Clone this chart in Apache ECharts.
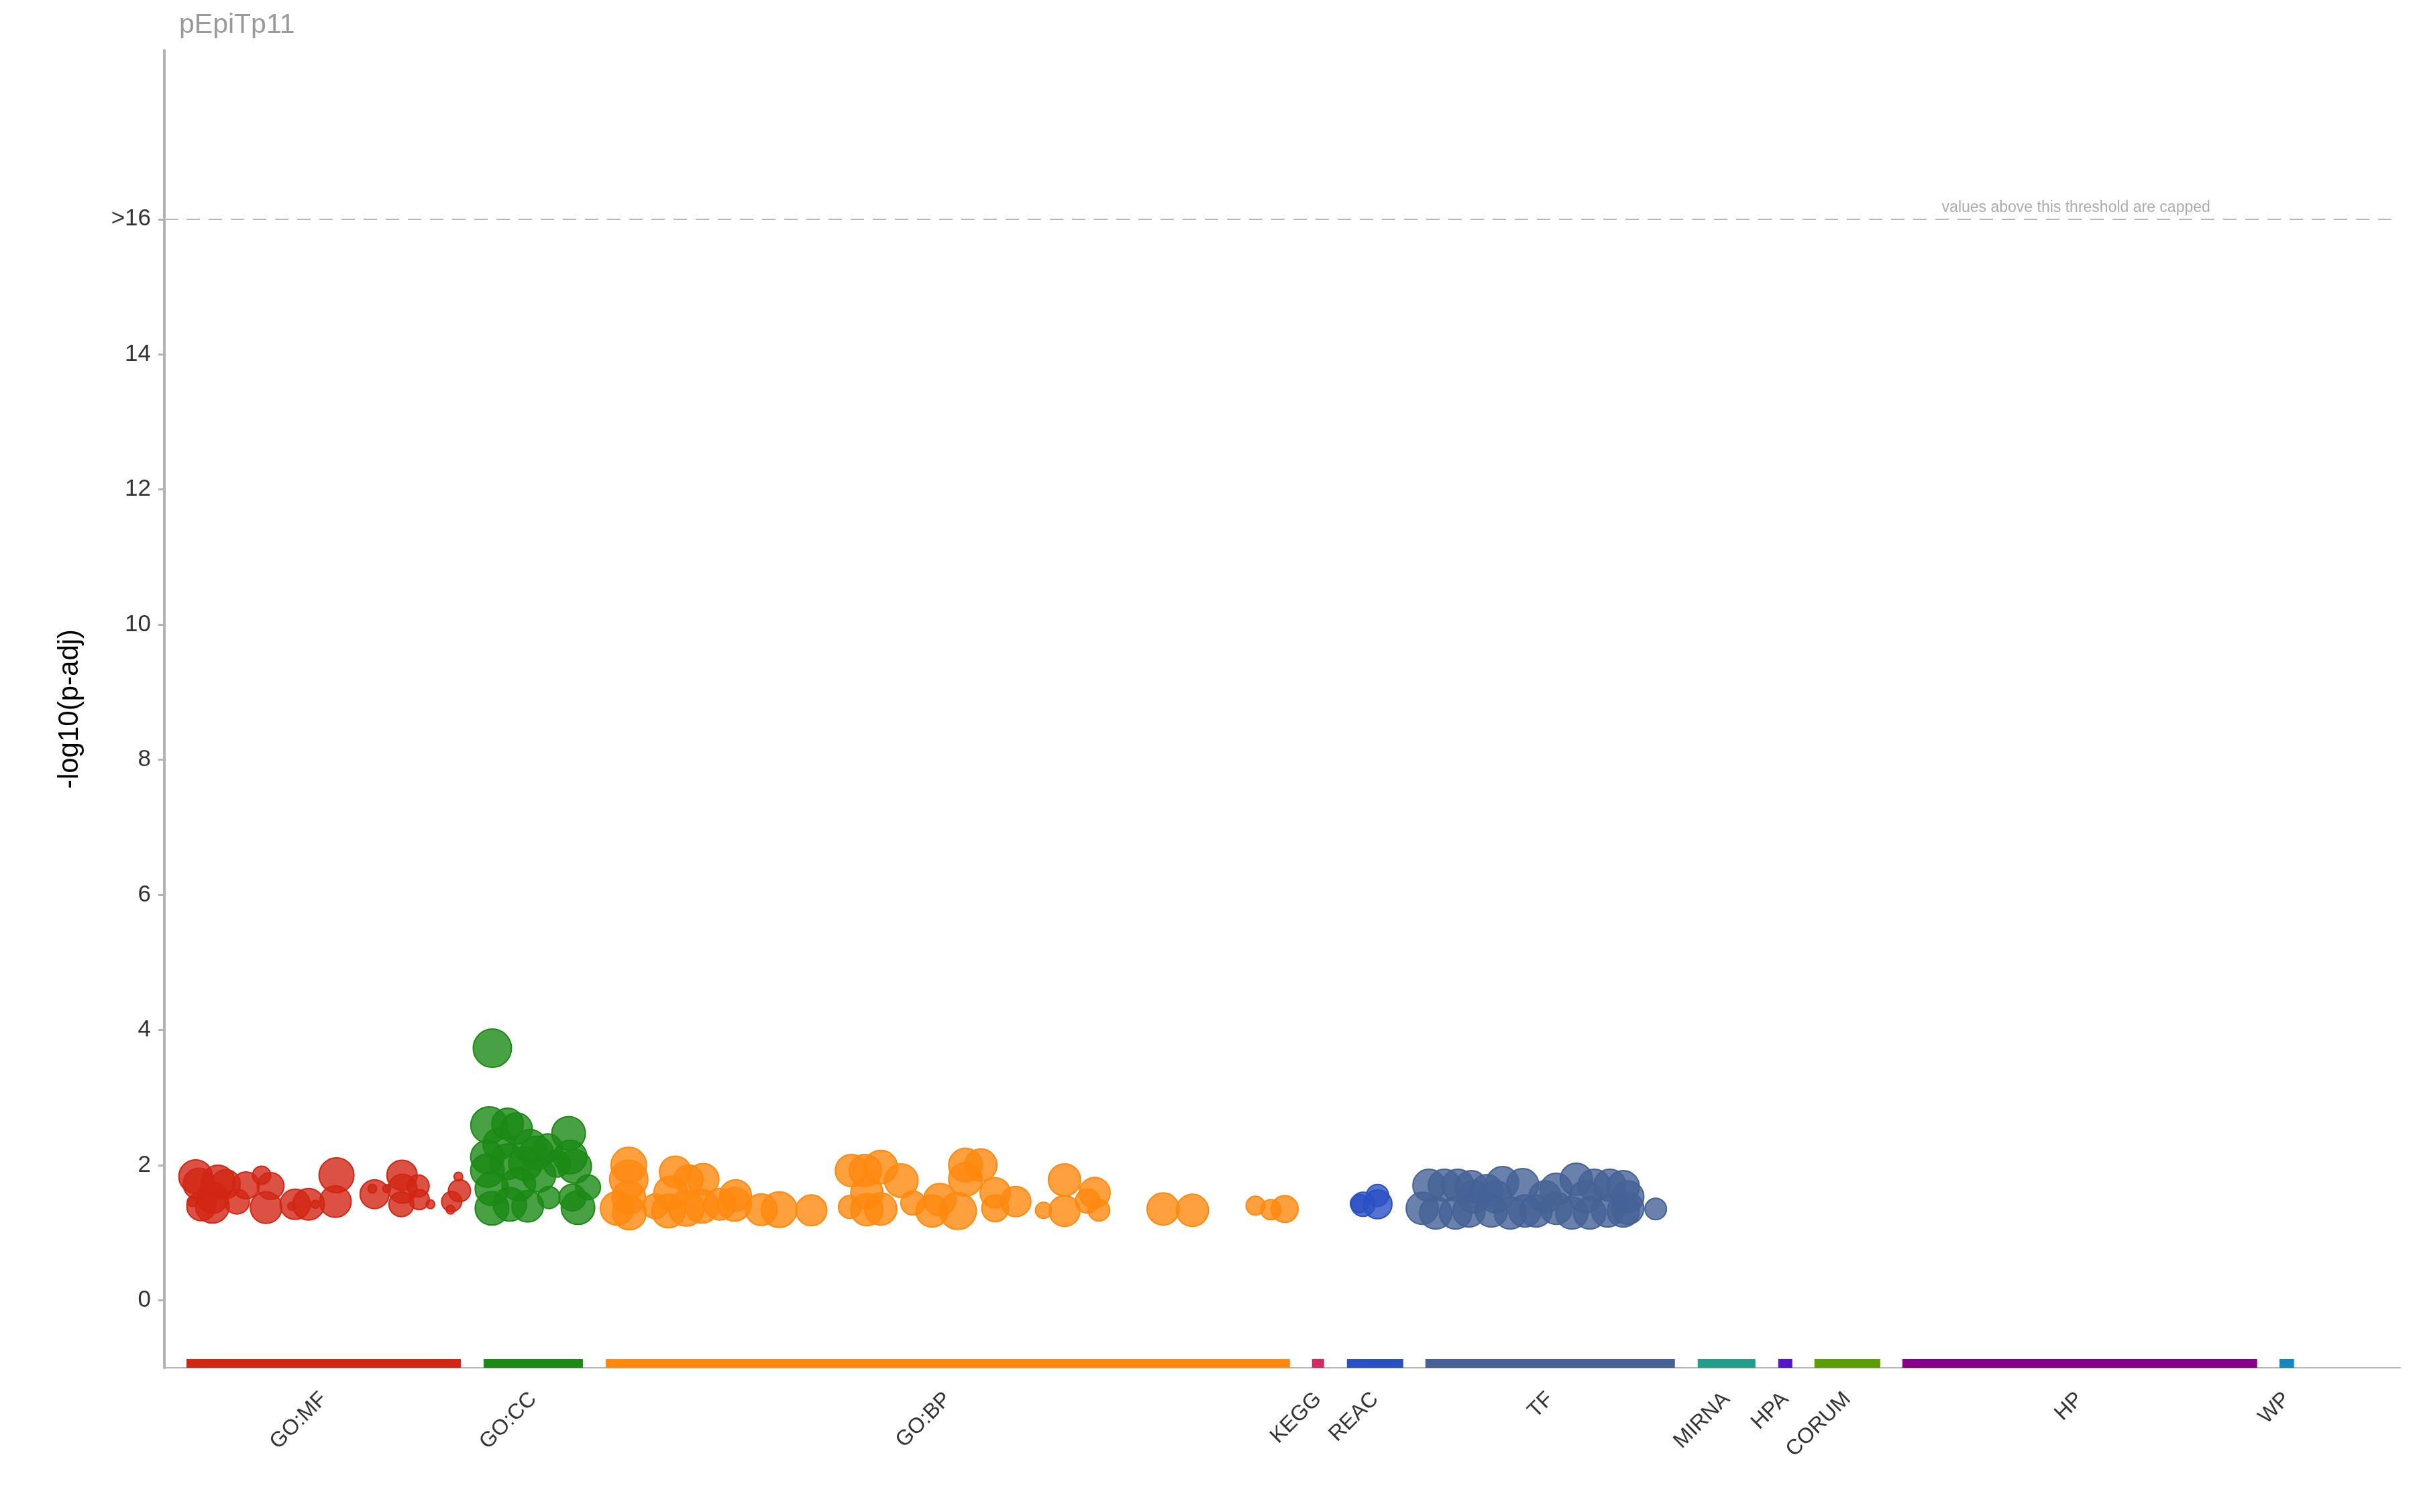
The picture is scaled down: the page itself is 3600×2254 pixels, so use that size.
<!DOCTYPE html>
<html><head><meta charset="utf-8">
<script src="https://cdn.jsdelivr.net/npm/echarts@6/dist/echarts.min.js"></script>
<style>html,body{margin:0;padding:0;background:#fff}#c{width:3600px;height:2254px}</style>
</head><body><div id="c"></div>
<script>
// ---------- data ----------
const sources = ['GO:MF','GO:CC','GO:BP','KEGG','REAC','TF','MIRNA','HPA','CORUM','HP','WP'];
const sourceStart = [0.99,14.28,19.74,51.33,52.89,56.40,68.58,72.18,73.80,77.73,94.60];
const sourceEnd   = [13.26,18.72,50.34,51.87,55.41,67.56,71.16,72.81,76.74,93.60,95.25];
const sourceColors = ['#d22614','#1a8a14','#ff880e','#d52b65','#2a50c4','#456196','#219d89','#5519c4','#5b9e00','#870087','#1288bf'];
const yTicks = [0,2,4,6,8,10,12,14,16];
const capValue = 16;
const capNote = 'values above this threshold are capped';

// [x position, -log10(p-adj), marker size]
const pointsGOMF = [[1.40,1.83,50],[1.55,1.72,47],[2.40,1.75,50],[2.75,1.72,43],[3.65,1.70,40],[2.15,1.39,50],[1.65,1.39,43],[3.25,1.46,37],[1.25,1.46,15],[4.35,1.85,27],[4.75,1.69,40],[4.55,1.37,47],[5.85,1.42,45],[6.45,1.42,47],[6.75,1.42,12],[5.70,1.39,12],[7.70,1.85,52],[7.65,1.46,47],[9.40,1.57,43],[9.30,1.65,13],[9.95,1.65,12],[10.63,1.85,45],[10.65,1.65,43],[10.60,1.42,37],[11.35,1.69,33],[11.40,1.49,30],[11.90,1.42,13],[13.15,1.83,13],[13.20,1.62,33],[12.85,1.46,30],[12.80,1.34,13],[2.15,1.52,47]];
const pointsGOCC = [[14.67,3.73,57],[14.53,2.59,55],[15.35,2.61,47],[15.75,2.54,47],[16.35,2.28,50],[17.15,2.25,43],[18.08,2.47,50],[14.45,2.12,50],[14.45,1.92,50],[15.35,2.05,53],[16.15,2.02,50],[14.65,1.65,50],[14.65,1.36,50],[15.45,1.42,50],[16.25,1.39,47],[17.20,1.52,33],[18.15,2.12,50],[18.35,1.98,50],[18.95,1.67,37],[18.50,1.37,50],[18.25,1.52,40],[16.75,1.85,50],[15.85,1.72,50],[17.55,2.02,40],[14.95,2.31,47],[16.65,2.18,50]];
const pointsGOBP = [[20.77,2.00,53],[20.77,1.79,57],[20.77,1.52,50],[20.25,1.36,50],[20.80,1.29,50],[22.85,1.90,47],[24.10,1.79,47],[23.45,1.79,43],[22.65,1.59,50],[22.55,1.32,50],[23.35,1.36,53],[24.05,1.39,50],[24.85,1.42,47],[25.50,1.42,50],[26.70,1.34,47],[27.50,1.34,53],[25.55,1.55,47],[21.95,1.39,37],[28.94,1.33,46],[30.73,1.92,48],[31.35,1.92,48],[32.04,1.97,50],[32.96,1.77,50],[31.42,1.59,48],[30.66,1.38,34],[31.42,1.34,48],[32.04,1.35,48],[33.48,1.44,36],[34.68,1.49,48],[34.34,1.32,48],[35.49,1.32,55],[35.83,2.00,50],[36.52,2.00,48],[35.83,1.79,50],[37.16,1.59,45],[37.16,1.36,40],[38.08,1.46,45],[39.32,1.33,24],[40.26,1.78,48],[40.26,1.32,46],[41.61,1.59,46],[41.29,1.47,36],[41.80,1.33,32],[44.67,1.35,48],[45.98,1.33,48],[48.80,1.40,28],[49.49,1.34,30],[50.11,1.35,40]];
const pointsKEGG = [];
const pointsREAC = [[53.61,1.42,36],[54.26,1.42,43],[54.26,1.55,33],[53.45,1.43,27]];
const pointsTF = [[56.56,1.70,48],[57.25,1.70,48],[57.85,1.70,48],[58.45,1.68,48],[59.15,1.62,48],[59.85,1.74,48],[60.75,1.71,48],[62.25,1.64,48],[63.15,1.79,48],[63.95,1.70,48],[64.65,1.70,48],[65.25,1.68,48],[56.26,1.36,48],[56.86,1.29,48],[57.75,1.29,48],[58.35,1.32,48],[59.35,1.32,48],[60.20,1.29,48],[60.85,1.32,48],[61.35,1.32,48],[62.25,1.36,48],[62.95,1.29,48],[63.75,1.29,48],[64.55,1.32,48],[65.25,1.32,48],[65.45,1.36,48],[58.55,1.53,48],[59.55,1.53,48],[61.75,1.53,48],[63.55,1.53,48],[65.45,1.53,48],[66.70,1.35,32]];
const pointsBySource = [pointsGOMF, pointsGOCC, pointsGOBP, pointsKEGG, pointsREAC, pointsTF, [], [], [], [], []];

// ---------- chart ----------
const FONT = 'Liberation Sans';
function rgba(hex, a) {
  const n = parseInt(hex.slice(1), 16);
  return 'rgba(' + (n >> 16 & 255) + ',' + (n >> 8 & 255) + ',' + (n & 255) + ',' + a + ')';
}
const centers = sources.map((s, i) => (sourceStart[i] + sourceEnd[i]) / 2);

const chart = echarts.init(document.getElementById('c'), null, {renderer: 'canvas'});

const series = [];
series.push({
  type: 'custom',
  name: 'sourceBars',
  silent: true,
  data: sources.map((s, i) => [sourceStart[i], sourceEnd[i], i]),
  renderItem: function (params, api) {
    const p0 = api.coord([api.value(0), -1]);
    const p1 = api.coord([api.value(1), -0.87]);
    return {
      type: 'rect',
      shape: {x: p0[0], y: p1[1], width: p1[0] - p0[0], height: p0[1] - p1[1]},
      style: {fill: sourceColors[api.value(2)]}
    };
  },
  z: 1
});

sources.forEach((s, i) => {
  const pts = pointsBySource[i];
  series.push({
    type: 'scatter',
    name: s,
    data: pts,
    symbolSize: d => d[2],
    itemStyle: {color: rgba(sourceColors[i], 0.8), borderColor: sourceColors[i], borderWidth: 2, opacity: 1},
    z: 3,
    markLine: i === 0 ? {
      silent: true, symbol: 'none',
      lineStyle: {color: '#b8b8b8', type: [20, 13], width: 2},
      label: {show: false},
      data: [[{coord: [0, capValue]}, {coord: [99.6, capValue]}]]
    } : undefined,
    markPoint: i === 0 ? {
      silent: true, symbol: 'circle', symbolSize: 0,
      label: {show: true, position: 'top', distance: 6, formatter: capNote, color: '#ababab', fontSize: 23, fontFamily: FONT},
      data: [{coord: [85.5, capValue]}]
    } : undefined
  });
});

chart.setOption({
  animation: false,
  backgroundColor: '#fff',
  textStyle: {fontFamily: FONT},
  title: {text: 'pEpiTp11', left: 262, top: 12, textStyle: {fontSize: 41, color: '#9a9a9a', fontWeight: 'normal', fontFamily: FONT}},
  grid: {left: 245, right: 22, top: 75, bottom: 215, containLabel: false},
  xAxis: {
    type: 'value', min: 0, max: 100,
    axisLine: {onZero: false, lineStyle: {color: '#b3b3b3', width: 2}},
    axisTick: {show: false},
    splitLine: {show: false},
    axisLabel: {
      customValues: centers,
      rotate: 45, margin: 42, fontSize: 32, color: '#333',
      formatter: v => { let k = 0, b = 1e9; centers.forEach((c, j) => { if (Math.abs(c - v) < b) { b = Math.abs(c - v); k = j; } }); return sources[k]; }
    }
  },
  yAxis: {
    type: 'value', min: -1, max: 18.5,
    name: '-log10(p-adj)', nameLocation: 'middle', nameGap: 120,
    nameTextStyle: {fontSize: 42, color: '#000', fontFamily: FONT},
    axisLine: {show: true, onZero: false, lineStyle: {color: '#b3b3b3', width: 4}},
    axisTick: {show: true, customValues: yTicks, length: 9, lineStyle: {color: '#b3b3b3', width: 3}},
    splitLine: {show: false},
    axisLabel: {customValues: yTicks, margin: 20, fontSize: 35, color: '#333',
      formatter: v => (v === capValue ? '>' + capValue : String(v))}
  },
  series: series
});
</script></body></html>
